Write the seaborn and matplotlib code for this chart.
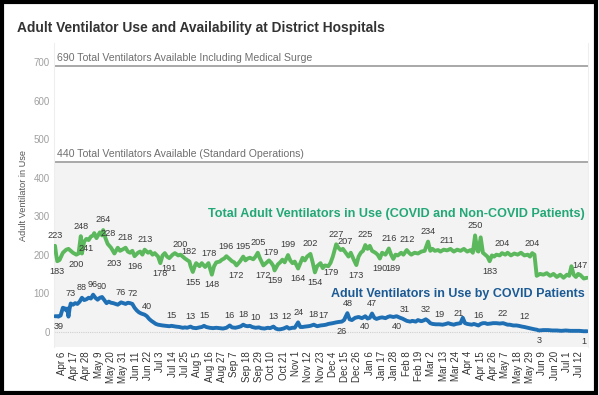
import numpy as np
import pandas as pd
import matplotlib
matplotlib.use("Agg")
import matplotlib.pyplot as plt
import matplotlib.patches as patches
import seaborn as sns

# days counted from Apr 6 2020
START = pd.Timestamp("2020-04-06")

total_days = [-6, -5, -4, -2, 1, 4, 6, 8, 10, 13, 15, 17, 18, 20, 22, 24, 26, 28, 29, 31,
              34, 36, 37, 39, 41, 44, 47, 50, 52, 54, 57, 59, 61, 63, 65, 68, 70, 72, 74, 77,
              79, 81, 83, 86, 88, 90, 92, 94, 96, 99, 101, 104, 106, 110, 114, 115, 117, 119, 120, 123,
              125, 128, 131, 134, 136, 138, 141, 143, 145, 147, 150, 152, 154, 156, 159, 162, 164, 166, 168, 171,
              173, 175, 177, 180, 183, 185, 187, 189, 190, 193, 195, 197, 199, 202, 204, 206, 208, 211, 213, 215,
              217, 219, 222, 224, 226, 228, 231, 233, 235, 238, 240, 242, 245, 247, 249, 251, 253, 256, 258, 261,
              263, 265, 267, 269, 271, 273, 275, 277, 280, 282, 284, 286, 289, 292, 294, 296, 298, 300, 303, 305,
              308, 310, 312, 315, 318, 321, 324, 327, 329, 331, 333, 336, 338, 341, 344, 347, 350, 353, 356, 359,
              362, 365, 367, 369, 371, 372, 374, 376, 378, 380, 382, 384, 386, 388, 391, 393, 396, 398, 401, 404,
              407, 410, 413, 416, 418, 420, 422, 424, 427, 430, 433, 436, 439, 442, 445, 448, 451, 453, 455, 457,
              459, 461, 463, 466, 469]
total_vals = [223, 200, 183, 186, 205, 213, 215, 210, 205, 200, 203, 248, 203, 234, 241, 238, 247, 250, 256, 243,
              258, 250, 264, 243, 228, 218, 203, 218, 210, 213, 218, 208, 205, 210, 196, 205, 208, 200, 213, 205,
              208, 200, 204, 195, 178, 198, 204, 195, 191, 200, 204, 198, 200, 190, 182, 170, 155, 172, 178, 170,
              178, 168, 178, 148, 170, 180, 182, 187, 190, 196, 188, 183, 180, 172, 182, 195, 185, 190, 192, 188,
              195, 205, 190, 172, 180, 185, 179, 170, 159, 175, 180, 187, 180, 199, 185, 178, 182, 164, 178, 192,
              185, 195, 202, 180, 154, 170, 178, 165, 172, 170, 179, 195, 227, 218, 212, 215, 207, 195, 205, 185,
              173, 195, 205, 210, 225, 215, 223, 210, 205, 200, 190, 205, 200, 216, 200, 189, 200, 198, 205, 200,
              212, 205, 200, 205, 203, 208, 210, 234, 210, 215, 210, 212, 208, 213, 211, 215, 208, 213, 210, 215,
              208, 212, 205, 250, 210, 208, 245, 205, 200, 195, 183, 198, 195, 200, 198, 204, 200, 205, 198, 203,
              200, 205, 198, 200, 195, 204, 200, 145, 150, 148, 152, 145, 150, 142, 148, 140, 148, 145, 170, 148,
              142, 150, 147, 138, 140]

covid_days = [-6, -4, -3, -1, 1, 3, 4, 5, 6, 7, 8, 10, 12, 14, 16, 18, 20, 22, 24, 26,
              28, 30, 32, 34, 36, 38, 40, 42, 44, 46, 48, 50, 52, 53, 55, 57, 59, 61, 63, 65,
              67, 69, 71, 74, 76, 78, 80, 82, 84, 86, 88, 90, 93, 96, 98, 100, 102, 105, 108, 110,
              112, 115, 117, 120, 123, 125, 127, 129, 132, 135, 138, 141, 144, 147, 150, 152, 155, 158, 160, 162,
              164, 166, 168, 170, 173, 176, 178, 181, 184, 186, 189, 191, 193, 195, 198, 201, 203, 206, 208, 211,
              213, 215, 217, 220, 222, 225, 228, 231, 234, 236, 238, 240, 242, 245, 247, 250, 252, 255, 257, 259,
              262, 265, 268, 271, 273, 275, 277, 279, 281, 284, 286, 289, 291, 293, 296, 299, 302, 304, 306, 308,
              311, 313, 316, 318, 321, 323, 325, 327, 329, 331, 334, 337, 340, 343, 345, 347, 350, 352, 354, 356,
              358, 360, 362, 364, 366, 368, 370, 372, 374, 376, 378, 380, 383, 385, 388, 391, 394, 396, 398, 400,
              403, 406, 408, 411, 413, 416, 419, 422, 424, 426, 430, 434, 438, 442, 446, 450, 454, 458, 462, 466,
              469]
covid_vals = [40, 40, 39, 42, 62, 60, 55, 60, 39, 60, 73, 70, 74, 72, 78, 88, 82, 84, 88, 86,
              96, 88, 83, 88, 90, 82, 74, 78, 75, 74, 72, 70, 74, 76, 74, 72, 75, 74, 72, 62,
              55, 50, 47, 44, 40, 33, 28, 24, 20, 18, 17, 16, 15, 14, 15, 14, 13, 12, 10, 11,
              10, 13, 10, 9, 11, 12, 15, 12, 10, 9, 10, 9, 8, 10, 16, 11, 10, 12, 14, 18,
              15, 14, 15, 12, 10, 11, 9, 8, 10, 9, 13, 8, 6, 6, 8, 12, 8, 10, 10, 24,
              12, 12, 13, 14, 15, 18, 14, 16, 17, 18, 20, 21, 22, 24, 25, 26, 30, 48, 32, 30,
              36, 38, 35, 40, 34, 36, 47, 36, 33, 36, 37, 35, 38, 40, 38, 40, 36, 34, 31, 28,
              26, 28, 26, 30, 27, 29, 32, 28, 22, 20, 19, 19, 18, 20, 22, 20, 18, 20, 21, 22,
              36, 22, 20, 19, 18, 20, 18, 16, 20, 22, 22, 20, 21, 22, 22, 21, 22, 20, 18, 18,
              16, 16, 15, 13, 12, 10, 8, 6, 5, 3, 4, 4, 3, 3, 2, 3, 2, 2, 2, 1,
              1]

# labelled points: day and whether the label sits above (1) or below (-1)
total_label_days = [-6, -4, 13, 17, 22, 37, 41, 47, 57, 65, 74, 88, 96, 106, 114, 117, 131, 134, 147, 156,
                    162, 175, 180, 187, 190, 202, 211, 222, 226, 240, 245, 253, 263, 271, 284, 292, 296, 308,
                    327, 344, 369, 382, 393, 420, 463]
total_label_pos = [1, -1, -1, 1, -1, 1, 1, -1, 1, -1, 1, -1, -1, 1, 1, -1, 1, -1, 1, -1,
                   1, 1, -1, 1, -1, 1, -1, 1, -1, -1, 1, 1, -1, 1, -1, 1, -1, 1,
                   1, 1, 1, -1, 1, 1, 1]
covid_label_days = [-3, 8, 18, 28, 36, 53, 63, 76, 98, 115, 127, 150, 162, 173, 189, 201, 211, 225, 234,
                    250, 255, 271, 277, 299, 306, 325, 337, 354, 372, 394, 413, 426, 466]
covid_label_pos = [-1, 1, 1, 1, 1, 1, 1, 1, 1, 1, 1, 1, 1, 1, 1, 1, 1, 1, 1,
                   -1, 1, -1, 1, -1, 1, 1, 1, 1, 1, 1, 1, -1, -1]

surge_cap = 690
standard_cap = 440

GREEN = "#5cb85c"
GREEN_TXT = "#22a876"
BLUE = "#1f6fb4"
BLUE_TXT = "#1b5a95"

total_df = pd.DataFrame({"date": START + pd.to_timedelta(total_days, unit="D"), "value": total_vals})
covid_df = pd.DataFrame({"date": START + pd.to_timedelta(covid_days, unit="D"), "value": covid_vals})

sns.set_style("white")
plt.rcParams["font.family"] = ["Liberation Sans", "DejaVu Sans"]

fig = plt.figure(figsize=(5.99, 3.95), dpi=100)
ax = fig.add_axes([0.090, 0.1215, 0.892, 0.7695])

x0 = START - pd.Timedelta(days=7)
x1 = START + pd.Timedelta(days=470)
ax.set_xlim(x0, x1)
ax.set_ylim(-40, 750)

# shaded band below standard capacity
ax.axhspan(-40, standard_cap, color="#f3f3f3", zorder=0, lw=0)
ax.axhline(0, color="#cfcfcf", lw=0.8, ls=(0, (1, 1)), zorder=1)
for cap in [surge_cap, standard_cap]:
    ax.axhline(cap, color="#a8a8a8", lw=1.4, zorder=2)
ax.text(START - pd.Timedelta(days=4), surge_cap + 8,
        "690 Total Ventilators Available Including Medical Surge",
        fontsize=7.6, color="#6f6f6f", va="bottom", ha="left")
ax.text(START - pd.Timedelta(days=4), standard_cap + 8,
        "440 Total Ventilators Available (Standard Operations)",
        fontsize=7.6, color="#6f6f6f", va="bottom", ha="left")

sns.lineplot(data=total_df, x="date", y="value", ax=ax, color=GREEN, lw=2.8, zorder=3)
sns.lineplot(data=covid_df, x="date", y="value", ax=ax, color=BLUE, lw=2.8, zorder=3)

# point labels
for days, vals, ldays, lpos in [(total_days, total_vals, total_label_days, total_label_pos),
                                (covid_days, covid_vals, covid_label_days, covid_label_pos)]:
    lookup = dict(zip(days, vals))
    for d, p in zip(ldays, lpos):
        v = lookup[d]
        ax.annotate(str(v), (START + pd.Timedelta(days=d), v), xytext=(0, 4 * p),
                    textcoords="offset points", ha="center",
                    va="bottom" if p > 0 else "top", fontsize=6.6, color="#3a3a3a", zorder=4)

ax.text(0.993, 0.438, "Total Adult Ventilators in Use (COVID and Non-COVID Patients)",
        transform=ax.transAxes, ha="right", va="center", fontsize=9.1,
        fontweight="bold", color=GREEN_TXT)
ax.text(0.993, 0.176, "Adult Ventilators in Use by COVID Patients",
        transform=ax.transAxes, ha="right", va="center", fontsize=9.0,
        fontweight="bold", color=BLUE_TXT)

ticks = pd.date_range(START, periods=43, freq="11D")
ax.set_xticks(ticks)
ax.set_xticklabels([t.strftime("%b ") + str(t.day) for t in ticks], rotation=90,
                   fontsize=7, color="#333333")
ax.set_yticks(range(0, 701, 100))
ax.set_yticklabels([str(v) for v in range(0, 701, 100)], fontsize=7, color="#a0a0a0")
ax.tick_params(length=0, pad=3)
ax.set_xlabel("")
ax.set_ylabel("Adult Ventilator in Use", fontsize=6.6, color="#555555", labelpad=4)
for side in ["top", "bottom"]:
    ax.spines[side].set_visible(False)
for side in ["left", "right"]:
    ax.spines[side].set_color("#eeeeee")
    ax.spines[side].set_linewidth(0.8)

fig.text(0.028, 0.93, "Adult Ventilator Use and Availability at District Hospitals",
         fontsize=9.9, fontweight="bold", color="#333333", ha="left", va="center")

fig.patches.append(patches.Rectangle((0.004, 0.006), 0.991, 0.988, transform=fig.transFigure,
                                     fill=False, ec="black", lw=3, zorder=10))

fig.savefig("out.png", dpi=100)
